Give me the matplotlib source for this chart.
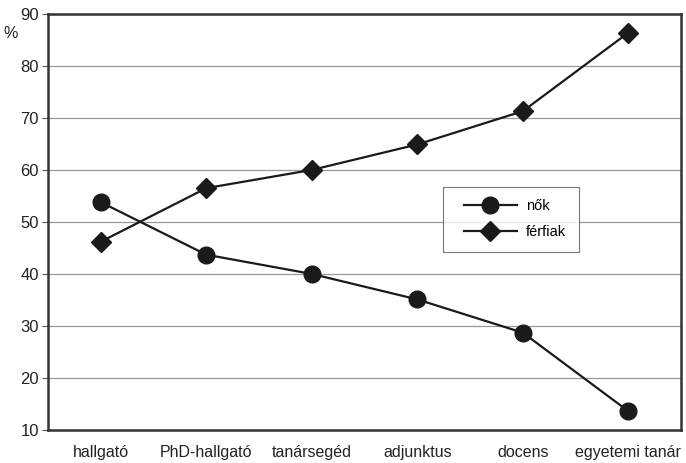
import matplotlib.pyplot as plt
import numpy as np
from matplotlib.lines import Line2D
from matplotlib.legend_handler import HandlerLine2D

categories = ['hallgató', 'PhD-hallgató', 'tanársegéd', 'adjunktus',
              'docens', 'egyetemi tanár']
nok = [53.8, 43.7, 40.0, 35.1, 28.7, 13.6]
ferfiak = [46.2, 56.5, 60.0, 64.9, 71.3, 86.4]

plt.rcParams['font.family'] = ['Liberation Sans', 'DejaVu Sans']

fig = plt.figure(figsize=(6.86, 4.63), dpi=100)
ax = fig.add_axes([0.070, 0.0713, 0.923, 0.8987])

x = np.arange(len(categories))
ax.plot(x, nok, color='#1a1a1a', lw=1.6, marker='o', ms=12, label='nők')
ax.plot(x, ferfiak, color='#1a1a1a', lw=1.6, marker='D', ms=10.5, label='férfiak')

ax.set_xlim(-0.5, len(categories) - 0.5)
ax.set_ylim(10, 90)
ax.set_yticks(range(10, 91, 10))
ax.set_xticks(x)
ax.set_xticklabels(categories)
ax.tick_params(axis='x', length=0, pad=11, labelsize=11.5, colors='#222222')
ax.tick_params(axis='y', length=4.5, width=0.8, color='#555555', pad=2,
               labelsize=12, labelcolor='#222222')

ax.yaxis.grid(True, color='#999999', lw=0.9)
ax.set_axisbelow(True)
for s in ax.spines.values():
    s.set_color('#333333')
    s.set_linewidth(1.8)

fig.text(0.005, 0.918, '%', fontsize=11.5, color='#222222')

leg = ax.legend(loc='upper left', bbox_to_anchor=(0.624, 0.585),
                frameon=True, fancybox=False, edgecolor='#555555',
                fontsize=10.5, handlelength=4.2, borderpad=0.85,
                labelspacing=0.85, handletextpad=0.65, borderaxespad=0,
                handler_map={Line2D: HandlerLine2D(xpad=0.55)})
leg.get_frame().set_linewidth(0.8)

fig.savefig('out.png', dpi=100)
